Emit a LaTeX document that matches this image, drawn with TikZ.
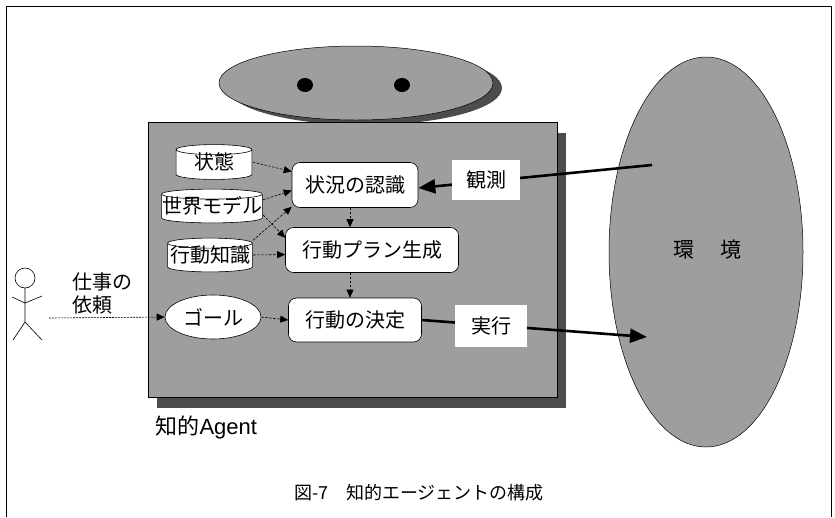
\documentclass[tikz,border=0pt]{standalone}
\usepackage{fontspec}
\setmainfont{Noto Sans CJK JP}
\newfontfamily\latinsans{Liberation Sans}
\usetikzlibrary{shapes.geometric,arrows.meta,shadows,calc}

\tikzset{
  body/.style={draw=black, line width=0.5pt, fill=black!38},
  proc/.style={draw=black, line width=0.6pt, fill=white, rounded corners=8pt,
    inner sep=0pt, font=\fontsize{20}{22}\selectfont},
  % a data store drawn as a short upright cylinder inside the node's box
  store/.style={inner sep=0pt, font=\fontsize{20}{22}\selectfont,
    path picture={
      \draw[line width=0.6pt, fill=white]
        let \p1=(path picture bounding box.south west),
            \p2=(path picture bounding box.north east),
            \n1={0.5*(\x2-\x1)-0.6pt} in
        (\x1+0.6pt,\y2-5.6pt) -- (\x1+0.6pt,\y1+5.6pt)
        arc[start angle=180, end angle=360, x radius=\n1, y radius=5pt]
        -- (\x2-0.6pt,\y2-5.6pt)
        arc[start angle=0, end angle=180, x radius=\n1, y radius=5pt]
        arc[start angle=180, end angle=360, x radius=\n1, y radius=5pt];
    }},
  oval/.style={ellipse, draw=black, line width=0.6pt, fill=white, inner sep=0pt,
    font=\fontsize{20}{22}\selectfont},
  tag/.style={fill=white, inner sep=0pt, font=\fontsize{20}{22}\selectfont},
  flow/.style={line width=0.6pt, dash pattern=on 2.5pt off 1.5pt,
    -{Triangle[length=8pt,width=7pt]}},
  bigflow/.style={line width=2.6pt, -{Triangle[length=17pt,width=14pt]}},
}

\begin{document}
\begin{tikzpicture}[x=1pt,y=-1pt]
\useasboundingbox (0,0) rectangle (835,517);

% page frame
\draw[line width=0.8pt] (6,517) -- (6,6) -- (831,6) -- (831,517);

% head of the agent
\node[ellipse, body, minimum width=274pt, minimum height=74pt, inner sep=0pt,
  drop shadow={shadow xshift=9pt, shadow yshift=-5pt, fill=black!70, opacity=1}]
  (head) at (356,83) {};
\fill (305,85) ellipse [x radius=8pt, y radius=7pt];
\fill (402,85) ellipse [x radius=8pt, y radius=7pt];

% body of the agent
\node[body, minimum width=409pt, minimum height=275pt, inner sep=0pt,
  drop shadow={shadow xshift=9pt, shadow yshift=-11pt, fill=black!70, opacity=1}]
  (agent) at (352.5,259.5) {};

% environment
\node[ellipse, body, minimum width=194pt, minimum height=390pt, inner sep=0pt]
  (env) at (706,252) {};
\node[font=\fontsize{21}{22}\selectfont] (envlabel) at (707,250) {環\hspace{26pt}境};

% inner components
\node[store, minimum width=77pt, minimum height=36pt] (state) at (214,162) {\raisebox{-2pt}{状態}};
\node[store, minimum width=102pt, minimum height=35pt] (world) at (212,206) {\raisebox{-2pt}{世界モデル}};
\node[store, minimum width=86pt, minimum height=35pt] (know) at (210,255) {\raisebox{-2pt}{行動知識}};

\node[proc, minimum width=126pt, minimum height=45pt] (recog) at (355,185) {状況の認識};
\node[proc, minimum width=173pt, minimum height=45pt] (plan) at (372,250) {行動プラン生成};
\node[proc, minimum width=133pt, minimum height=44pt] (decide) at (355,320) {行動の決定};
\node[oval, minimum width=96pt, minimum height=44pt] (goal) at (213,317) {ゴール};

% internal flows
\draw[flow] (state.east) -- (recog.168);
\draw[flow] (world.7) -- (recog.185);
\draw[flow] (know.19) -- (recog.199);
\draw[flow] (world.-10) -- (plan.172);
\draw[flow] (know.east) -- (plan.183);
\draw[flow] ([xshift=-5pt]recog.south) -- ([xshift=-5pt]recog.south |- plan.north);
\draw[flow] ([xshift=-5pt]decide.north |- plan.south) -- ([xshift=-5pt]decide.north);
\draw[flow] (goal.east) -- (decide.west);

% observation and action
\coordinate (seen) at (652,165);
\coordinate (acted) at (647,337);
\draw[bigflow] (seen) -- ([yshift=-3pt]recog.east);
\draw[bigflow] (decide.east) -- (acted);
\node[tag, minimum width=68pt, minimum height=40pt] (obs) at (486,180) {観測};
\node[tag, minimum width=72pt, minimum height=42pt] (act) at (491,326) {実行};

% the person giving the request
\draw[line width=0.6pt] (25,278) circle [radius=10pt];
\draw[line width=0.6pt] (25,288) -- (25,322) (12,297) -- (25,303) -- (42,296)
  (13,340) -- (25,322) -- (42,340);
\coordinate (client) at (49,318);
\node[anchor=west, align=left, font=\fontsize{20}{23}\selectfont] (req) at (69,293) {仕事の\\依頼};
\draw[flow, dash pattern=on 2pt off 1pt] (client) -- (goal.west);

% labels
\node[anchor=west, font=\fontsize{22}{24}\selectfont] (agentname) at (152,427) {知的{\latinsans Agent}};
\node[font=\fontsize{18}{20}\selectfont] (caption) at (419,493) {図-7\hspace{18pt}知的エージェントの構成};
\end{tikzpicture}
\end{document}
